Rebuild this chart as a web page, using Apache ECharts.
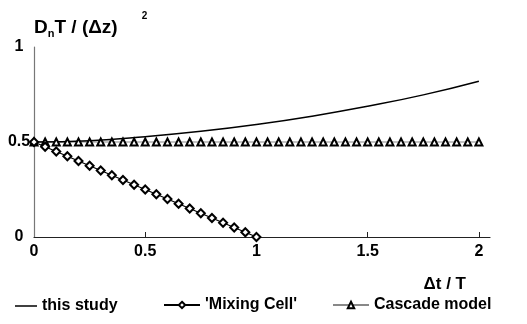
<!DOCTYPE html>
<html>
<head>
<meta charset="utf-8">
<script src="https://cdn.jsdelivr.net/npm/echarts@6/dist/echarts.min.js"></script>
<style>
  html, body { margin: 0; padding: 0; background: #fff; }
  #chart { width: 527px; height: 324px; }
</style>
</head>
<body>
<div id="chart"></div>
<script>
// D_n T / (Δz)^2 against Δt / T, three models
const FONT = '"Liberation Sans", Arial, sans-serif'

// this study: smooth curve
const studyX = [0, 0.25, 0.5, 0.75, 1, 1.25, 1.5, 1.75, 2]
const studyY = [0.5, 0.507, 0.528, 0.556, 0.592, 0.636, 0.688, 0.748, 0.82]

// 'Mixing Cell': diamonds every 0.05 from 0 to 1
const mixX = [0, 0.05, 0.1, 0.15, 0.2, 0.25, 0.3, 0.35, 0.4, 0.45, 0.5,
  0.55, 0.6, 0.65, 0.7, 0.75, 0.8, 0.85, 0.9, 0.95, 1]
const mixY = [0.5, 0.475, 0.45, 0.425, 0.4, 0.375, 0.35, 0.325, 0.3, 0.275, 0.25,
  0.225, 0.2, 0.175, 0.15, 0.125, 0.1, 0.075, 0.05, 0.025, 0]

// Cascade model: triangles every 0.05 from 0 to 2, flat at 0.5
const cascX = [0, 0.05, 0.1, 0.15, 0.2, 0.25, 0.3, 0.35, 0.4, 0.45, 0.5,
  0.55, 0.6, 0.65, 0.7, 0.75, 0.8, 0.85, 0.9, 0.95, 1,
  1.05, 1.1, 1.15, 1.2, 1.25, 1.3, 1.35, 1.4, 1.45, 1.5,
  1.55, 1.6, 1.65, 1.7, 1.75, 1.8, 1.85, 1.9, 1.95, 2]
const cascY = cascX.map(() => 0.5)

const xLabels = [0, 0.5, 1, 1.5, 2]
const xTicks = [0.5, 1, 1.5, 2]

const zip = (xs, ys) => xs.map((x, i) => [x, ys[i]])

const chart = echarts.init(document.getElementById('chart'))

const legendBase = {
  top: 297, itemHeight: 8, padding: 0,
  textStyle: { fontFamily: FONT, fontWeight: 'bold', fontSize: 16, color: '#000' }
}

chart.setOption({
  animation: false,
  grid: { left: 34, top: 47, right: 37, bottom: 87 },
  legend: [
    { ...legendBase, data: [{ name: 'this study', icon: 'rect' }], left: 15, itemWidth: 22, itemHeight: 1.5, top: 298 },
    { ...legendBase, data: ["'Mixing Cell'"], left: 163, itemWidth: 36 },
    { ...legendBase, data: ['Cascade model'], left: 332, itemWidth: 36 }
  ],
  xAxis: {
    type: 'value', min: 0, max: 2.05,
    name: 'Δt / T', nameLocation: 'end', nameGap: 0,
    nameTextStyle: {
      fontFamily: FONT, fontWeight: 'bold', fontSize: 17, color: '#000',
      align: 'right', verticalAlign: 'top', padding: [39, 24, 0, 0]
    },
    axisLine: { lineStyle: { color: '#222', width: 1.2 } },
    axisTick: { inside: true, length: 5, customValues: xTicks, lineStyle: { color: '#222' } },
    axisLabel: {
      customValues: xLabels, margin: 7,
      fontFamily: FONT, fontWeight: 'bold', fontSize: 16, color: '#000'
    },
    splitLine: { show: false }
  },
  yAxis: {
    type: 'value', min: 0, max: 1, interval: 0.5,
    name: '{a|D}{sub|n}{a|T / (Δz)}{sup|2}',
    nameLocation: 'end', nameGap: 19,
    nameTextStyle: {
      align: 'left', verticalAlign: 'middle',
      rich: {
        a: { fontFamily: FONT, fontWeight: 'bold', fontSize: 19, color: '#000' },
        sub: { fontFamily: FONT, fontWeight: 'bold', fontSize: 11, color: '#000', padding: [12, 0, 0, 0] },
        sup: { fontFamily: FONT, fontWeight: 'bold', fontSize: 10, color: '#000', padding: [0, 0, 24, 24] }
      }
    },
    axisLine: { show: true, lineStyle: { color: '#777', width: 1.2 } },
    axisTick: { show: false },
    axisLabel: {
      align: 'center', margin: 15,
      fontFamily: FONT, fontWeight: 'bold', fontSize: 16, color: '#000'
    },
    splitLine: { show: false }
  },
  series: [
    {
      name: 'Cascade model', type: 'line', data: zip(cascX, cascY),
      symbol: 'emptyTriangle', symbolSize: 7, showAllSymbol: true,
      lineStyle: { color: '#888', width: 1.2 },
      itemStyle: { color: '#000', borderWidth: 1 }
    },
    {
      name: "'Mixing Cell'", type: 'line', data: zip(mixX, mixY),
      symbol: 'emptyDiamond', symbolSize: 8, showAllSymbol: true,
      lineStyle: { color: '#000', width: 1.2 },
      itemStyle: { color: '#000', borderWidth: 1 }
    },
    {
      name: 'this study', type: 'line', data: zip(studyX, studyY),
      smooth: true, symbol: 'none',
      lineStyle: { color: '#000', width: 1.5 },
      itemStyle: { color: '#000' }
    }
  ]
})
</script>
</body>
</html>
